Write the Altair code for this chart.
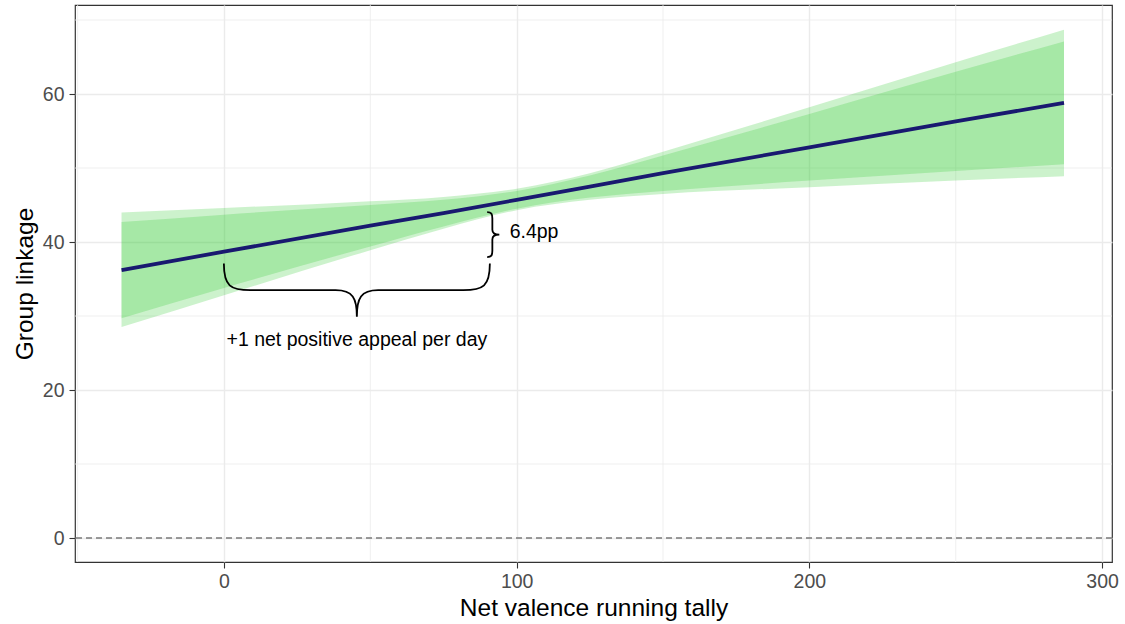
import altair as alt
import pandas as pd

# ---- data ----
x_vals   = [-35, 0, 50, 75, 100, 125, 150, 200, 250, 287]
fit      = [36.2, 38.7, 42.2, 43.9, 45.7, 47.5, 49.3, 52.8, 56.3, 58.8]
outer_lo = [28.5, 32.8, 38.9, 41.8, 44.3, 45.7, 46.5, 47.4, 48.3, 48.9]
outer_hi = [44.0, 44.6, 45.5, 46.1, 47.2, 49.3, 52.2, 58.2, 64.3, 68.7]
inner_lo = [29.7, 33.8, 39.4, 42.1, 44.5, 46.0, 46.9, 48.3, 49.6, 50.5]
inner_hi = [42.7, 43.7, 45.0, 45.7, 46.9, 49.0, 51.7, 57.3, 63.0, 67.1]

x_ticks = [0, 100, 200, 300]
y_ticks = [0, 20, 40, 60]
minor_x = [-50, 50, 150, 250]
minor_y = [10, 30, 50, 70]

# annotations (data units)
hbrace_x, hbrace_y = [45.4], [33.5]
vbrace_x, vbrace_y = [92.0], [41.0]
label_text = ["+1 net positive appeal per day", "6.4pp"]
label_x = [45.4, 97.6]
label_y = [26.8, 41.35]
label_align = ["center", "left"]

X_DOM = [-50.9, 303.4]
Y_DOM = [-3.24, 72.03]
FONT = "Liberation Sans"

df = pd.DataFrame({"x": x_vals, "fit": fit, "olo": outer_lo, "ohi": outer_hi,
                   "ilo": inner_lo, "ihi": inner_hi})

xs = alt.Scale(domain=X_DOM, nice=False, zero=False)
ys = alt.Scale(domain=Y_DOM, nice=False, zero=False)

xaxis = alt.Axis(values=x_ticks, title="Net valence running tally", grid=True,
                 gridColor="#ebebeb", gridWidth=1.4, domain=False,
                 tickColor="#333333", tickSize=6, tickWidth=1.1,
                 labelColor="#4d4d4d", labelFontSize=19.5, labelPadding=4,
                 labelFont=FONT, titleFont=FONT, titleFontSize=24.5,
                 titleFontWeight="normal", titleColor="black", titlePadding=6)
yaxis = alt.Axis(values=y_ticks, title="Group linkage", grid=True,
                 gridColor="#ebebeb", gridWidth=1.4, domain=False,
                 tickColor="#333333", tickSize=6, tickWidth=1.1,
                 labelColor="#4d4d4d", labelFontSize=19.5, labelPadding=5,
                 labelFont=FONT, titleFont=FONT, titleFontSize=24.5,
                 titleFontWeight="normal", titleColor="black", titlePadding=5)

base = alt.Chart(df)

minor_v = alt.Chart(pd.DataFrame({"mx": minor_x})).mark_rule(
    color="#ebebeb", strokeWidth=0.8).encode(x=alt.X("mx:Q", scale=xs, axis=xaxis))
minor_h = alt.Chart(pd.DataFrame({"my": minor_y})).mark_rule(
    color="#ebebeb", strokeWidth=0.8).encode(y=alt.Y("my:Q", scale=ys, axis=yaxis))

outer = base.mark_area(color="limegreen", opacity=0.25, interpolate="monotone").encode(
    x=alt.X("x:Q", scale=xs, axis=xaxis), y=alt.Y("olo:Q", scale=ys, axis=yaxis), y2="ohi:Q")
inner = base.mark_area(color="limegreen", opacity=0.25, interpolate="monotone").encode(
    x=alt.X("x:Q", scale=xs), y=alt.Y("ilo:Q", scale=ys), y2="ihi:Q")

zero = alt.Chart(pd.DataFrame({"z": [0]})).mark_rule(
    color="#7a7a7a", strokeWidth=1.6, strokeDash=[6, 4]).encode(y=alt.Y("z:Q", scale=ys))

line = base.mark_line(color="#191970", strokeWidth=3.8).encode(
    x=alt.X("x:Q", scale=xs), y=alt.Y("fit:Q", scale=ys))

HBRACE = ("M -1 -0.2 C -1 -0.03 -0.95 0 -0.8 0 L -0.16 0 C -0.03 0 0 0.06 0 0.2 "
          "C 0 0.06 0.03 0 0.16 0 L 0.8 0 C 0.95 0 1 -0.03 1 -0.2")
VBRACE = ("M -0.27 -1 C -0.08 -1 -0.04 -0.92 -0.04 -0.72 L -0.04 -0.22 "
          "C -0.04 -0.06 0.05 0 0.27 0 C 0.05 0 -0.04 0.06 -0.04 0.22 "
          "L -0.04 0.72 C -0.04 0.92 -0.08 1 -0.27 1")

hb = alt.Chart(pd.DataFrame({"bx": hbrace_x, "by": hbrace_y})).mark_point(
    shape=HBRACE, size=266 * 266, filled=False, stroke="black", strokeWidth=1.8,
    opacity=1).encode(x=alt.X("bx:Q", scale=xs), y=alt.Y("by:Q", scale=ys))
vb = alt.Chart(pd.DataFrame({"bx": vbrace_x, "by": vbrace_y})).mark_point(
    shape=VBRACE, size=45 * 45, filled=False, stroke="black", strokeWidth=1.8,
    opacity=1).encode(x=alt.X("bx:Q", scale=xs), y=alt.Y("by:Q", scale=ys))

lab_df = pd.DataFrame({"t": label_text, "lx": label_x, "ly": label_y, "al": label_align})
lab_c = alt.Chart(lab_df[lab_df.al == "center"]).mark_text(
    align="center", baseline="middle", font=FONT, fontSize=19.5, color="black").encode(
    x=alt.X("lx:Q", scale=xs), y=alt.Y("ly:Q", scale=ys), text="t:N")
lab_l = alt.Chart(lab_df[lab_df.al == "left"]).mark_text(
    align="left", baseline="middle", font=FONT, fontSize=19.5, color="black").encode(
    x=alt.X("lx:Q", scale=xs), y=alt.Y("ly:Q", scale=ys), text="t:N")

chart = alt.layer(minor_v, minor_h, outer, inner, zero, line, hb, vb, lab_c, lab_l).properties(
    width=1037, height=557,
    padding={"left": 75, "top": 5, "right": 13, "bottom": 62},
    autosize="none",
    background="white",
).configure_view(stroke="#333333", strokeWidth=1.2)

chart.save("out.html", embed_options={"renderer": "svg", "actions": False})
